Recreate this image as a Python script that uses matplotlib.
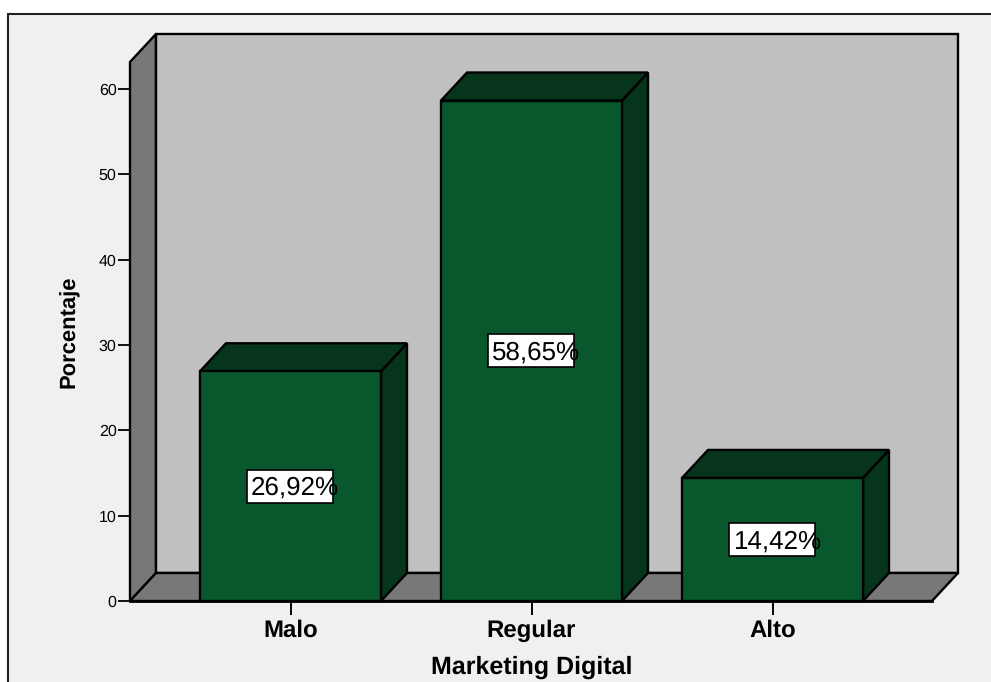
#!/usr/bin/env python

import matplotlib
matplotlib.use("Agg")
import matplotlib.pyplot as plt
from matplotlib.patches import Polygon, Rectangle

categories = ["Malo", "Regular", "Alto"]
values = [26.92, 58.65, 14.42]
labels = ["26,92%", "58,65%", "14,42%"]
yticks = [0, 10, 20, 30, 40, 50, 60]

W, H = 991, 682
PX = 241.0        # px per category
PY = 512 / 60.0   # px per percent
DX = 26 / PX      # depth offset in data units
DY = 28 / PY
BW = 181 / PX
XMIN = (130 - 290.5) / PX
XMAX = (932 - 290.5) / PX
YMAX = (601 - 62) / PY

GREEN = "#09582d"
DARK = "#06351b"
WALL = "#c0c0c0"
SIDE = "#787878"
LW = 1.7

plt.rcParams["font.family"] = ["Liberation Sans", "DejaVu Sans"]
plt.rcParams["text.hinting"] = "no_hinting"
plt.rcParams["text.hinting_factor"] = 1

fig = plt.figure(figsize=(W / 100, H / 100), dpi=100, facecolor="white")

# panel behind the chart, runs off the right and bottom of the picture
fig.patches.append(Rectangle((8 / W, -0.1), 1.1, 1.1 - 14 / H, transform=fig.transFigure,
                             facecolor="#f0f0f0", edgecolor="#222222", linewidth=1.5, zorder=-1))

ax = fig.add_axes([130 / W, 1 - 601 / H, 802 / W, (601 - 62) / H])
ax.patch.set_visible(False)
ax.set_xlim(XMIN, XMAX)
ax.set_ylim(0, YMAX)


def poly(pts, color, z):
    ax.add_patch(Polygon(pts, closed=True, facecolor=color, edgecolor="black",
                         linewidth=LW, joinstyle="miter", clip_on=False, zorder=z))


# walls and floor
poly([(XMIN, 0), (XMIN + DX, DY), (XMIN + DX, YMAX + DY), (XMIN, YMAX)], SIDE, 1)
poly([(XMIN + DX, DY), (XMAX + DX, DY), (XMAX + DX, YMAX + DY), (XMIN + DX, YMAX + DY)], WALL, 1)
poly([(XMIN, 0), (XMAX, 0), (XMAX + DX, DY), (XMIN + DX, DY)], SIDE, 1)

# bars
for i, v in enumerate(values):
    x0 = i - BW / 2
    x1 = i + BW / 2
    poly([(x1, 0), (x1 + DX, DY), (x1 + DX, v + DY), (x1, v)], DARK, 2)
    poly([(x0, v), (x1, v), (x1 + DX, v + DY), (x0 + DX, v + DY)], DARK, 2)
    poly([(x0, 0), (x1, 0), (x1, v), (x0, v)], GREEN, 3)

    # value box, the text is a bit wider than the box
    bw = 86 / PX
    bh = 33 / PY
    ax.add_patch(Rectangle((i - 0.5 / PX - bw / 2, v / 2 - bh / 2), bw, bh, facecolor="white",
                           edgecolor="black", linewidth=1.2, zorder=4))
    ax.annotate(labels[i], (i - bw / 2, v / 2), xytext=(2.5, -1.5), textcoords="offset points",
                ha="left", va="center", fontsize=18.9, color="black", zorder=5)

for s in ["top", "right", "bottom", "left"]:
    ax.spines[s].set_visible(False)

ax.set_yticks(yticks)
ax.tick_params(axis="y", length=8.6, width=1.3, labelsize=11.5, pad=1, color="black")
ax.set_xticks(range(len(categories)))
ax.set_xticklabels(categories, fontsize=17, fontweight="bold")
ax.tick_params(axis="x", length=10, width=1.4, pad=3, color="black")

ax.axhline(0, color="black", linewidth=2, zorder=6, clip_on=False)

fig.text(69 / W, 1 - 332 / H, "Porcentaje", rotation=90, ha="center", va="center",
         fontsize=16.1, fontweight="bold")
fig.text(532 / W, 1 - 667 / H, "Marketing Digital", ha="center", va="center",
         fontsize=17.7, fontweight="bold")

fig.savefig("out.png", dpi=100, facecolor="white")
